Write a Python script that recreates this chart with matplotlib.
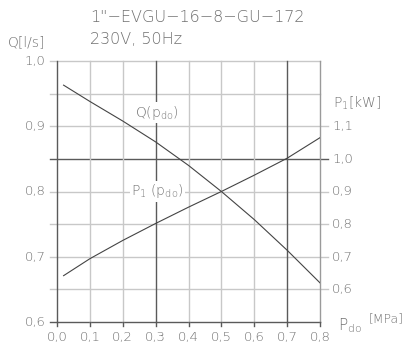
import numpy as np
import matplotlib.pyplot as plt

plt.rcParams['mathtext.default'] = 'regular'

# pressure p_do [MPa]
p_do = [0.02, 0.1, 0.2, 0.3, 0.4, 0.5, 0.6, 0.7, 0.8]
# flow Q [l/s]
flow = [0.963, 0.938, 0.908, 0.876, 0.840, 0.800, 0.757, 0.710, 0.660]
# input power P1 [kW]
power = [0.642, 0.694, 0.750, 0.802, 0.852, 0.900, 0.950, 1.002, 1.065]

x_ticks = [0.0, 0.1, 0.2, 0.3, 0.4, 0.5, 0.6, 0.7, 0.8]
q_ticks = [0.6, 0.7, 0.8, 0.9, 1.0]
p_ticks = [0.6, 0.7, 0.8, 0.9, 1.0, 1.1]
q_grid = [0.6, 0.65, 0.7, 0.75, 0.8, 0.85, 0.9, 0.95, 1.0]

title1 = '1"\u2212EVGU\u221216\u22128\u2212GU\u2212172'
title2 = '230V, 50Hz'

TXT = '#707070'
LIGHT = '#c8c8c8'
DARK = '#5a5a5a'
FONT = dict(family='DejaVu Sans', weight='light', color=TXT)


def p_to_q(p):
    # right axis P1 0.6..1.1 sits on Q 0.65..0.9
    return 0.65 + (np.asarray(p) - 0.6) / 2.0


def fmt(v):
    return f'{v:.1f}'.replace('.', ',')


fig = plt.figure(figsize=(4.08, 3.5), dpi=100)
ax = fig.add_axes([57 / 408, 28 / 350, 263 / 408, 261 / 350])
ax.set_xlim(0, 0.8)
ax.set_ylim(0.6, 1.0)
ax.axis('off')

left_ext = -0.0213
right_ext = 0.824

# horizontal grid
for q in q_grid:
    dark = np.isclose(q, 0.6) or np.isclose(q, 0.85)
    x1 = right_ext if 0.64 < q < 0.91 else 0.8
    ax.plot([left_ext, x1], [q, q], color=DARK if dark else LIGHT,
            lw=1.0, clip_on=False, zorder=1)

# vertical grid
for x in x_ticks:
    dark = round(x, 1) in (0.0, 0.3, 0.7)
    col = DARK if dark else ('#9a9a9a' if round(x, 1) == 0.8 else LIGHT)
    ax.plot([x, x], [0.6, 1.0], color=col, lw=1.0, clip_on=False, zorder=1)
    ax.plot([x, x], [0.6, 0.594], color=DARK, lw=1.0, clip_on=False, zorder=1)
    ax.text(x, 0.586, fmt(x), ha='center', va='top', fontsize=9.5, **FONT)

for q in q_ticks:
    ax.text(-0.034, q, fmt(q), ha='right', va='center', fontsize=9.5, **FONT)

for p in p_ticks:
    ax.text(0.837, p_to_q(p), fmt(p), ha='left', va='center', fontsize=9.5, **FONT)

# curves
ax.plot(p_do, flow, color='#444444', lw=0.8, zorder=3)
ax.plot(p_do, p_to_q(power), color='#444444', lw=0.8, zorder=3)

box = dict(facecolor='white', edgecolor='none', pad=1.0)
ax.text(0.305, 0.921, 'Q(p$_{do}$)', ha='center', va='center', fontsize=10,
        bbox=box, zorder=4, **FONT)
ax.text(0.305, 0.800, 'P$_1$ (p$_{do}$)', ha='center', va='center', fontsize=10,
        bbox=box, zorder=4, **FONT)

# titles and axis names
fig.text(90 / 408, 1 - 18 / 350, title1, ha='left', va='center', fontsize=11.5, **FONT)
fig.text(90 / 408, 1 - 40 / 350, title2, ha='left', va='center', fontsize=11.5, **FONT)
fig.text(8 / 408, 1 - 42 / 350, 'Q[l/s]', ha='left', va='center', fontsize=10, **FONT)
fig.text(333 / 408, 1 - 103 / 350, 'P$_1$[kW]', ha='left', va='center', fontsize=10, **FONT)
fig.text(338 / 408, 1 - 326 / 350, 'P$_{do}$', ha='left', va='center', fontsize=11, **FONT)
fig.text(369 / 408, 1 - 318 / 350, '[MPa]', ha='left', va='center', fontsize=9, **FONT)

fig.savefig('out.png', dpi=100)
